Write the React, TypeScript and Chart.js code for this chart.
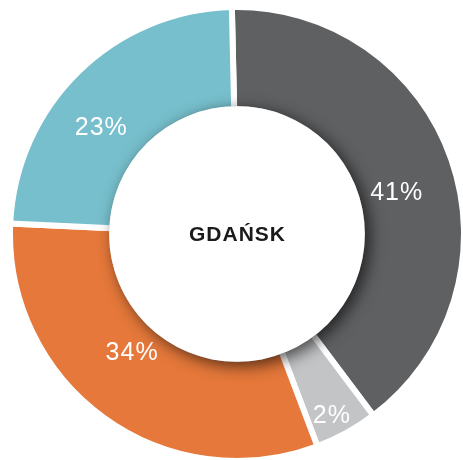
import React, { useEffect, useRef } from "react";
import { Chart, registerables } from "chart.js";

Chart.register(...registerables);

const categories = ["Gray", "Light gray", "Orange", "Teal"];
const sliceShares = [40.1, 4.5, 31.5, 23.9];
const percentLabels = ["41%", "2%", "34%", "23%"];
const sliceColors = ["#5f6062", "#c3c4c6", "#e5783a", "#77bfcc"];
const centerTitle = "GDAŃSK";

// where along each slice (angular fraction, radial fraction) its label sits
const labelAngleFrac = [0.532, 0.58, 0.547, 0.41];
const labelRadiusFrac = [0.393, 0.785, 0.334, 0.462];

const centerPlugin = {
  id: "centerDecor",
  afterDatasetsDraw(chart: any) {
    const meta = chart.getDatasetMeta(0);
    const arcs = meta.data;
    if (!arcs.length) return;
    const ctx = chart.ctx;
    const a0 = arcs[0];
    const cx = a0.x;
    const cy = a0.y;
    const holeR = a0.innerRadius + 3;

    // labels
    ctx.save();
    ctx.fillStyle = "#ffffff";
    ctx.font = "25px 'Liberation Sans', Arial, sans-serif";
    ctx.textAlign = "center";
    ctx.textBaseline = "middle";
    try { (ctx as any).letterSpacing = "1px"; } catch (e) {}
    arcs.forEach((arc: any, i: number) => {
      const ang = arc.startAngle + labelAngleFrac[i] * (arc.endAngle - arc.startAngle);
      const r = arc.innerRadius + labelRadiusFrac[i] * (arc.outerRadius - arc.innerRadius);
      ctx.fillText(percentLabels[i], cx + r * Math.cos(ang), cy + r * Math.sin(ang));
    });
    ctx.restore();

    // center disc with drop shadow
    ctx.save();
    ctx.shadowColor = "rgba(0,0,0,0.65)";
    ctx.shadowBlur = 16;
    ctx.shadowOffsetX = 5;
    ctx.shadowOffsetY = 4;
    ctx.fillStyle = "#ffffff";
    ctx.beginPath();
    ctx.arc(cx, cy, holeR, 0, Math.PI * 2);
    ctx.fill();
    ctx.restore();

    // center title
    ctx.save();
    ctx.fillStyle = "#1a1a1a";
    ctx.font = "bold 21px 'Liberation Sans', Arial, sans-serif";
    ctx.textAlign = "center";
    ctx.textBaseline = "middle";
    try { (ctx as any).letterSpacing = "1px"; } catch (e) {}
    ctx.fillText(centerTitle, cx + 0.5, cy + 1);
    ctx.restore();
  },
};

export default function App() {
  const canvasRef = useRef<HTMLCanvasElement | null>(null);

  useEffect(() => {
    if (!canvasRef.current) return;
    const chart = new Chart(canvasRef.current, {
      type: "doughnut",
      data: {
        labels: categories,
        datasets: [
          {
            data: sliceShares,
            backgroundColor: sliceColors,
            borderColor: "#ffffff",
            borderWidth: 6,
            hoverBorderWidth: 6,
            offset: 0,
            hoverOffset: 0,
          },
        ],
      },
      options: {
        responsive: false,
        animation: false,
        rotation: -1.3,
        cutout: "55%",
        layout: { padding: 0 },
        plugins: {
          legend: { display: false },
          tooltip: { enabled: false },
        },
        events: [],
      },
      plugins: [centerPlugin],
    });
    return () => chart.destroy();
  }, []);

  return (
    <div
      style={{
        position: "fixed",
        left: 0,
        top: 0,
        width: 463,
        height: 460,
        overflow: "hidden",
        background: "#ffffff",
      }}
    >
      <canvas
        ref={canvasRef}
        width={460}
        height={460}
        style={{ position: "absolute", left: 7, top: 4, width: 460, height: 460 }}
      />
    </div>
  );
}
